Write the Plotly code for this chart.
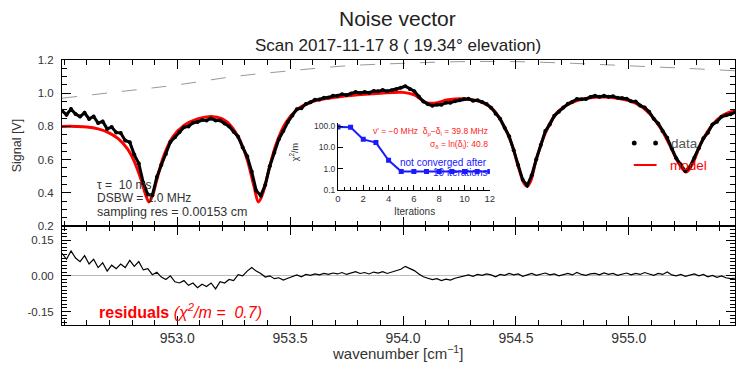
import plotly.graph_objects as go

# ---------------- data ----------------
wn_start, wn_step = 952.49, 0.02

data_sig = [0.895, 0.870, 0.905, 0.875, 0.859, 0.882, 0.845, 0.860, 0.820, 0.830,
            0.785, 0.796, 0.764, 0.760, 0.715, 0.705, 0.630, 0.577, 0.460, 0.390,
            0.385, 0.495, 0.568, 0.634, 0.706, 0.735, 0.765, 0.795, 0.800, 0.822,
            0.826, 0.838, 0.836, 0.848, 0.836, 0.835, 0.818, 0.800, 0.768, 0.738,
            0.673, 0.620, 0.528, 0.413, 0.383, 0.448, 0.560, 0.641, 0.722, 0.772,
            0.826, 0.866, 0.904, 0.910, 0.935, 0.945, 0.961, 0.962, 0.973, 0.974,
            0.985, 0.985, 0.994, 0.989, 0.998, 1.007, 1.001, 1.007, 1.003, 1.013,
            1.011, 1.019, 1.012, 1.018, 1.024, 1.033, 1.042, 1.026, 1.012, 0.980,
            0.950, 0.934, 0.925, 0.931, 0.930, 0.943, 0.943, 0.952, 0.957, 0.965,
            0.966, 0.955, 0.957, 0.947, 0.935, 0.913, 0.876, 0.846, 0.792, 0.740,
            0.657, 0.568, 0.478, 0.444, 0.506, 0.602, 0.688, 0.772, 0.812, 0.864,
            0.889, 0.914, 0.936, 0.949, 0.965, 0.963, 0.965, 0.977, 0.985, 0.978,
            0.985, 0.978, 0.981, 0.972, 0.971, 0.967, 0.952, 0.950, 0.926, 0.914,
            0.888, 0.846, 0.818, 0.771, 0.731, 0.667, 0.608, 0.570, 0.531, 0.556,
            0.611, 0.668, 0.728, 0.762, 0.812, 0.828, 0.858, 0.867, 0.873, 0.885]

resid = [0.095, 0.070, 0.105, 0.075, 0.060, 0.085, 0.050, 0.070, 0.035, 0.055,
         0.020, 0.045, 0.030, 0.050, 0.035, 0.065, 0.040, 0.060, 0.025, 0.030,
         0.005, 0.015, -0.005, -0.015, 0.000, -0.025, -0.030, -0.020, -0.040, -0.030,
         -0.050, -0.035, -0.045, -0.030, -0.055, -0.025, -0.030, -0.015, -0.020, 0.005,
         0.000, 0.020, 0.035, 0.020, 0.010, -0.005, 0.000, -0.012, -0.008, -0.018,
         -0.010, -0.002, 0.004, -0.004, 0.006, 0.002, 0.008, 0.004, 0.010, 0.006,
         0.012, 0.008, 0.014, 0.006, 0.012, 0.018, 0.010, 0.014, 0.008, 0.016,
         0.012, 0.018, 0.010, 0.015, 0.020, 0.028, 0.040, 0.030, 0.022, 0.008,
         -0.004, -0.010, -0.016, -0.012, -0.020, -0.014, -0.018, -0.010, -0.006, 0.000,
         0.004, -0.002, 0.006, 0.002, 0.008, 0.004, -0.004, 0.006, 0.002, 0.010,
         0.004, 0.008, -0.002, 0.004, 0.010, 0.002, 0.008, 0.012, 0.004, 0.008,
         0.000, 0.006, 0.010, 0.004, 0.014, 0.006, 0.002, 0.008, 0.010, 0.004,
         0.012, 0.006, 0.010, 0.002, 0.008, 0.012, 0.004, 0.010, 0.006, 0.014,
         0.008, 0.002, 0.010, 0.006, 0.016, 0.004, 0.000, 0.006, -0.002, 0.004,
         0.008, 0.000, 0.006, -0.004, 0.002, -0.006, 0.000, -0.008, -0.012, -0.010]

wn = [round(wn_start + wn_step * i, 2) for i in range(len(data_sig))]

model_wn = [952.49, 952.55, 952.60, 952.65, 952.70, 952.74, 952.78, 952.81, 952.84, 952.86,
            952.875, 952.89, 952.91, 952.94, 952.98, 953.03, 953.09, 953.15, 953.20, 953.24,
            953.28, 953.31, 953.34, 953.36, 953.38, 953.41, 953.44, 953.48, 953.53, 953.60,
            953.70, 953.80, 953.90, 954.00, 954.05, 954.10, 954.14, 954.20, 954.28, 954.35,
            954.40, 954.44, 954.48, 954.51, 954.535, 954.55, 954.565, 954.59, 954.63, 954.68,
            954.75, 954.85, 954.95, 955.03, 955.09, 955.14, 955.18, 955.22, 955.255, 955.28,
            955.32, 955.37, 955.42, 955.47]
model_sig = [0.800, 0.800, 0.797, 0.785, 0.760, 0.725, 0.665, 0.590, 0.480, 0.390,
             0.345, 0.380, 0.480, 0.620, 0.735, 0.805, 0.845, 0.860, 0.845, 0.800,
             0.710, 0.600, 0.440, 0.345, 0.400, 0.560, 0.700, 0.820, 0.900, 0.950,
             0.975, 0.990, 1.000, 1.005, 0.990, 0.945, 0.940, 0.960, 0.965, 0.945,
             0.900, 0.820, 0.700, 0.560, 0.460, 0.440, 0.470, 0.600, 0.760, 0.880,
             0.945, 0.975, 0.970, 0.940, 0.880, 0.790, 0.690, 0.580, 0.525, 0.570,
             0.700, 0.810, 0.870, 0.895]

gray_wn = [952.49, 952.75, 953.0, 953.25, 953.5, 953.75, 954.0, 954.25, 954.5, 954.75,
           955.0, 955.25, 955.47]
gray_sig = [0.97, 1.01, 1.05, 1.10, 1.135, 1.165, 1.18, 1.19, 1.19, 1.18,
            1.165, 1.15, 1.135]

iters = [0, 1, 2, 3, 4, 5, 6, 7, 8, 9, 10, 11, 12]
chi2m = [92, 90, 24, 17, 2.5, 0.74, 0.74, 0.74, 0.74, 0.74, 0.74, 0.74, 0.74]

x_ticks = [953.0, 953.5, 954.0, 954.5, 955.0]
x_ticktext = ["953.0", "953.5", "954.0", "954.5", "955.0"]
sig_ticks = [0.2, 0.4, 0.6, 0.8, 1.0, 1.2]
res_ticks = [-0.15, 0.0, 0.15]
res_ticktext = ["-0.15", "0.00", "0.15"]
inset_yticks = [0.1, 1, 10, 100]
inset_yticktext = ["0.1", "1.0", "10.0", "100.0"]

# ---------------- layout helpers ----------------
W, H = 743, 365
PL, PR, PT, PB = 62, 740, 60, 325
def fx(px):
    return (px - PL) / (PR - PL)
def fy(py):
    return (PB - py) / (PB - PT)

FONT = "Liberation Sans, Arial, sans-serif"
TXT = "#333333"
split = fy(226)

fig = go.Figure()

# top panel
fig.add_trace(go.Scatter(x=gray_wn, y=gray_sig, mode="lines", xaxis="x2", yaxis="y2",
                         line=dict(color="#999999", width=1, dash="longdash", shape="spline"),
                         showlegend=False, hoverinfo="skip"))
fig.add_trace(go.Scatter(x=model_wn, y=model_sig, mode="lines", xaxis="x2", yaxis="y2",
                         line=dict(color="#ff0000", width=3, shape="spline"),
                         showlegend=False))
fig.add_trace(go.Scatter(x=wn, y=data_sig, mode="lines+markers", xaxis="x2", yaxis="y2",
                         line=dict(color="#000000", width=3),
                         marker=dict(color="#000000", size=4),
                         showlegend=False))
# residual panel
fig.add_trace(go.Scatter(x=wn, y=resid, mode="lines", xaxis="x", yaxis="y",
                         line=dict(color="#000000", width=1.2),
                         showlegend=False))
# inset
fig.add_trace(go.Scatter(x=iters, y=chi2m, mode="lines+markers", xaxis="x3", yaxis="y3",
                         line=dict(color="#1a1aff", width=2),
                         marker=dict(color="#1a1aff", size=5, symbol="square"),
                         showlegend=False))

axcommon = dict(showline=True, linecolor="#000000", linewidth=1, mirror="allticks",
                ticks="inside", tickcolor="#000000", ticklen=9, showgrid=False,
                zeroline=False, tickfont=dict(family=FONT, size=14, color=TXT))
yfont = dict(family=FONT, size=11.5, color=TXT)

fig.update_layout(
    width=W, height=H,
    margin=dict(l=PL, r=W - PR, t=PT, b=H - PB),
    paper_bgcolor="white", plot_bgcolor="white",
    showlegend=False,
    font=dict(family=FONT, color=TXT),
    xaxis=dict(axcommon, domain=[0, 1], anchor="y", range=[952.49, 955.47],
               tickvals=x_ticks, ticktext=x_ticktext,
               minor=dict(dtick=0.1, tick0=953.0, ticklen=5, ticks="inside", tickcolor="#000000")),
    yaxis=dict(axcommon, domain=[0, split], anchor="x", range=[-0.207, 0.21],
               tickvals=res_ticks, ticktext=res_ticktext, ticklabelstandoff=5,
               tickfont=yfont,
               zeroline=True, zerolinecolor="#bbbbbb", zerolinewidth=1,
               minor=dict(dtick=0.015, tick0=0, ticklen=5, ticks="inside", tickcolor="#000000")),
    xaxis2=dict(axcommon, domain=[0, 1], anchor="y2", matches="x", range=[952.49, 955.47],
                tickvals=x_ticks, showticklabels=False,
                minor=dict(dtick=0.1, tick0=953.0, ticklen=5, ticks="inside", tickcolor="#000000")),
    yaxis2=dict(axcommon, domain=[split, 1], anchor="x2", range=[0.2, 1.2],
                tickvals=sig_ticks, tickformat=".1f", ticklabelstandoff=5,
                tickfont=yfont,
                minor=dict(dtick=0.05, tick0=0, ticklen=5, ticks="inside", tickcolor="#000000")),
    xaxis3=dict(domain=[fx(340), fx(493)], anchor="y3", range=[0, 12],
                showline=True, linecolor="#000000", linewidth=1, mirror=False,
                ticks="inside", ticklen=5, tickcolor="#000000", showgrid=False, zeroline=False,
                tickvals=[0, 2, 4, 6, 8, 10, 12],
                tickfont=dict(family=FONT, size=9.5, color=TXT),
                minor=dict(dtick=0.5, ticklen=3, ticks="inside", tickcolor="#000000")),
    yaxis3=dict(domain=[fy(190), fy(123)], anchor="x3", type="log", range=[-1, 2.15],
                showline=True, linecolor="#000000", linewidth=1, mirror=False,
                ticks="inside", ticklen=5, tickcolor="#000000", showgrid=False, zeroline=False,
                tickvals=inset_yticks, ticktext=inset_yticktext,
                tickfont=dict(family=FONT, size=8.5, color=TXT)),
)

ann = []
def A(text, xpx, ypx, size, color=TXT, xanchor="center", angle=0):
    ann.append(dict(text=text, x=fx(xpx), y=fy(ypx), xref="paper", yref="paper",
                    xanchor=xanchor, yanchor="middle", showarrow=False, textangle=angle,
                    font=dict(family=FONT, size=size, color=color)))

A("Noise vector", 400, 18, 21, "#222222")
A("Scan 2017-11-17 8 ( 19.34° elevation)", 400, 45, 17, "#222222")
A("Signal [V]", 17, 145, 12.5, TXT, angle=-90)
A("wavenumber [cm<sup>−1</sup>]", 400, 352, 15, TXT)
A("τ =  10 ms", 95, 185, 12, TXT, xanchor="left")
A("DSBW = 1.0 MHz", 95, 198, 12, TXT, xanchor="left")
A("sampling res = 0.00153 cm", 95, 212, 12.5, TXT, xanchor="left")
A("<b>residuals</b> <i>(χ<sup>2</sup>/m =  0.7)</i>", 97, 311, 16, "#ff0000", xanchor="left")
A("data", 674, 143, 13.5, "#555555", xanchor="left")
A("model", 673, 165, 13.5, "#ff0000", xanchor="left")
# inset texts
A("ν' = −0 MHz  δ<sub>p</sub>−δ<sub>l</sub> = 39.8 MHz", 493, 131, 8.5, "#ff2020", xanchor="right")
A("σ<sub>δ</sub> = ln(δ<sub>l</sub>): 40.8", 493, 144, 8.5, "#ff2020", xanchor="right")
A("not converged after", 492, 162, 10, "#1a1aff", xanchor="right")
A("10 iterations", 492, 172, 10, "#1a1aff", xanchor="right")
A("Iterations", 417, 211, 10, TXT)
A("χ<sup>2</sup>/m", 296, 152, 9, TXT, angle=-90)

shapes = [
    dict(type="circle", xref="paper", yref="paper",
         x0=fx(636), x1=fx(641), y0=fy(140.5), y1=fy(145.5),
         fillcolor="#000000", line=dict(width=0)),
    dict(type="circle", xref="paper", yref="paper",
         x0=fx(657.5), x1=fx(662.5), y0=fy(140.5), y1=fy(145.5),
         fillcolor="#000000", line=dict(width=0)),
    dict(type="line", xref="paper", yref="paper",
         x0=fx(638), x1=fx(661), y0=fy(165), y1=fy(165),
         line=dict(color="#ff0000", width=2)),
]
fig.update_layout(annotations=ann, shapes=shapes)

fig.write_html("out.html")
